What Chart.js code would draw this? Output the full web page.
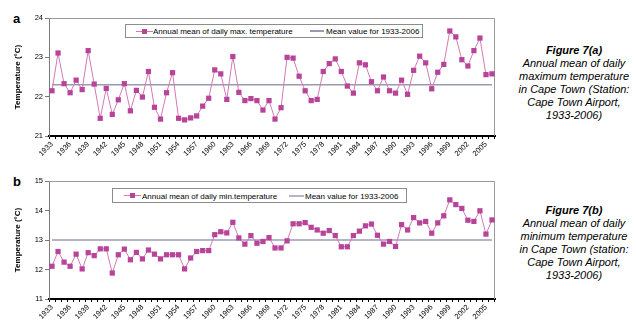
<!DOCTYPE html>
<html>
<head>
<meta charset="utf-8">
<script src="https://cdn.jsdelivr.net/npm/chart.js@4.4.1/dist/chart.umd.min.js"></script>
<style>
  body { margin: 0; width: 636px; height: 328px; background: #fff; position: relative; overflow: hidden;
         font-family: "Liberation Sans", Arial, sans-serif; color: #000; }
  .panel { position: absolute; left: 0; width: 500px; height: 165px; }
  .tag { position: absolute; left: 13px; font-weight: bold; font-size: 13px; line-height: 13px; }
  .legend { position: absolute; border: 1px solid #8c8c8c; background: #fff; box-sizing: border-box; font-size: 8px; }
  .legend span { position: absolute; top: 50%; transform: translateY(-50%); white-space: nowrap; }
  .legend i { position: absolute; top: 50%; display: block; }
  .ln { height: 1px; margin-top: -0.5px; background: #d27ab6; }
  .mk { width: 5px; height: 5px; margin-top: -2.5px; background: #b8449a; }
  .caption { position: absolute; left: 518px; width: 112px; text-align: center; font-size: 11px; line-height: 13px; font-style: italic; }
  .caption b { font-weight: bold; }
</style>
</head>
<body>

<div class="tag" style="top:12px">a</div>
<div class="panel" style="top:0"><canvas id="maxChart" width="500" height="165"></canvas></div>
<div class="legend" style="left:125px; top:24px; width:298px; height:14px">
  <i class="ln" style="left:10px; width:17px"></i><i class="mk" style="left:16px"></i>
  <span style="left:27px">Annual mean of daily max. temperature</span>
  <i style="left:184px; width:14px; height:1.5px; margin-top:-0.75px; background:#9a9ab0"></i>
  <span style="left:200px">Mean value for 1933-2006</span>
</div>
<div class="caption" style="top:44px"><b>Figure 7(a)</b><br>Annual mean of daily maximum temperature in Cape Town (Station: Cape Town Airport, 1933-2006)</div>

<div class="tag" style="top:175px">b</div>
<div class="panel" style="top:163px"><canvas id="minChart" width="500" height="165"></canvas></div>
<div class="legend" style="left:112px; top:188px; width:295px; height:15px">
  <i class="ln" style="left:11px; width:17px"></i><i class="mk" style="left:17px"></i>
  <span style="left:29px">Annual mean of daily min.temperature</span>
  <i style="left:176px; width:15px; height:2px; margin-top:-1px; background:#b4b4cc"></i>
  <span style="left:192px">Mean value for 1933-2006</span>
</div>
<div class="caption" style="top:204px"><b>Figure 7(b)</b><br>Annual mean of daily minimum temperature in Cape Town (station: Cape Town Airport, 1933-2006)</div>

<script>
// years on the category axis
var years = [
  1933, 1934, 1935, 1936, 1937, 1938, 1939, 1940, 1941, 1942, 1943, 1944, 1945, 1946, 1947, 1948,
  1949, 1950, 1951, 1952, 1953, 1954, 1955, 1956, 1957, 1958, 1959, 1960, 1961, 1962, 1963, 1964,
  1965, 1966, 1967, 1968, 1969, 1970, 1971, 1972, 1973, 1974, 1975, 1976, 1977, 1978, 1979, 1980,
  1981, 1982, 1983, 1984, 1985, 1986, 1987, 1988, 1989, 1990, 1991, 1992, 1993, 1994, 1995, 1996,
  1997, 1998, 1999, 2000, 2001, 2002, 2003, 2004, 2005, 2006
];

// annual mean of daily max. temperature (a)
var maxTemp = [
  22.15, 23.11, 22.33, 22.10, 22.42, 22.18, 23.17, 22.32, 21.45, 22.21, 21.55, 21.92, 22.33, 21.64, 22.16, 21.99,
  22.64, 21.73, 21.43, 22.10, 22.61, 21.45, 21.41, 21.46, 21.51, 21.76, 21.96, 22.68, 22.58, 21.93, 23.02, 22.11,
  21.90, 21.95, 21.90, 21.66, 21.90, 21.43, 21.72, 23.00, 22.98, 22.52, 22.15, 21.90, 21.93, 22.64, 22.84, 22.96,
  22.64, 22.27, 22.09, 22.86, 22.81, 22.38, 22.15, 22.50, 22.15, 22.09, 22.42, 22.06, 22.67, 23.03, 22.86, 22.20,
  22.62, 22.82, 23.67, 23.52, 22.94, 22.78, 23.17, 23.49, 22.56, 22.58
];
var maxMean = 22.3;

// annual mean of daily min. temperature (b)
var minTemp = [
  12.11, 12.61, 12.25, 12.11, 12.52, 12.02, 12.57, 12.47, 12.70, 12.70, 11.88, 12.50, 12.69, 12.33, 12.58, 12.36,
  12.66, 12.52, 12.36, 12.50, 12.50, 12.50, 12.02, 12.39, 12.61, 12.64, 12.64, 13.18, 13.28, 13.24, 13.60, 13.07,
  12.86, 13.15, 12.89, 12.95, 13.08, 12.73, 12.73, 12.97, 13.55, 13.55, 13.59, 13.43, 13.34, 13.23, 13.32, 13.15,
  12.77, 12.77, 13.15, 13.30, 13.48, 13.54, 13.16, 12.86, 12.95, 12.78, 13.52, 13.34, 13.76, 13.58, 13.63, 13.23,
  13.58, 13.82, 14.36, 14.20, 14.07, 13.67, 13.63, 13.99, 13.20, 13.68
];
var minMean = 13.0;

var yTicksMax = [21, 24];
var yTicksMin = [11, 15];

var frame = {
  id: 'frame',
  beforeDatasetsDraw: function (chart) {
    var a = chart.chartArea, ctx = chart.ctx;
    ctx.save();
    ctx.strokeStyle = '#9a9a9a';
    ctx.lineWidth = 1;
    ctx.beginPath();
    ctx.moveTo(a.left, a.top + 0.5);
    ctx.lineTo(a.right - 0.5, a.top + 0.5);
    ctx.lineTo(a.right - 0.5, a.bottom);
    ctx.stroke();
    ctx.restore();
  }
};

function makeChart(id, values, mean, range, meanColor, meanWidth) {
  var ctx = document.getElementById(id);
  return new Chart(ctx, {
    type: 'line',
    data: {
      labels: years,
      datasets: [{
        data: values,
        borderColor: '#d27ab6',
        borderWidth: 1,
        backgroundColor: '#b8449a',
        pointBackgroundColor: '#b8449a',
        pointBorderColor: '#b8449a',
        pointBorderWidth: 0,
        pointStyle: 'rect',
        pointRadius: 3.7,
        tension: 0,
        order: 0
      }, {
        data: years.map(function () { return mean; }),
        borderColor: meanColor,
        borderWidth: meanWidth,
        pointRadius: 0,
        order: 1
      }]
    },
    options: {
      responsive: false,
      animation: false,
      devicePixelRatio: 1,
      layout: { padding: { top: 18, right: 5, left: 0, bottom: 0 } },
      plugins: { legend: { display: false }, tooltip: { enabled: false } },
      scales: {
        x: {
          offset: true,
          afterFit: function (s) { s.height = 29; },
          border: { display: true, color: '#000', width: 2 },
          grid: { display: true, drawOnChartArea: false, drawTicks: true, tickLength: 3, color: '#000', offset: true },
          ticks: {
            autoSkip: false, maxRotation: 45, minRotation: 45, padding: 1,
            color: '#000',
            font: { family: '"Liberation Sans", Arial, sans-serif', size: 7.5 },
            callback: function (v, i) { return i % 3 === 0 ? String(years[i]) : ''; }
          }
        },
        y: {
          min: range[0], max: range[1],
          afterFit: function (s) { s.width = 49; },
          border: { display: true, color: '#7a7a7a', width: 1 },
          grid: { display: true, drawOnChartArea: false, drawTicks: true, tickLength: 4, color: '#7a7a7a' },
          ticks: {
            stepSize: 1, padding: 2, color: '#000',
            font: { family: '"Liberation Sans", Arial, sans-serif', size: 7.5 }
          },
          title: {
            display: true, text: 'Temperature (°C)', color: '#000',
            padding: { top: 13, bottom: 0 },
            font: { family: '"Liberation Sans", Arial, sans-serif', size: 8, weight: 'bold' }
          }
        }
      }
    },
    plugins: [frame]
  });
}

makeChart('maxChart', maxTemp, maxMean, yTicksMax, '#9a9ab0', 1.5);
makeChart('minChart', minTemp, minMean, yTicksMin, '#b4b4cc', 2);
</script>
</body>
</html>
